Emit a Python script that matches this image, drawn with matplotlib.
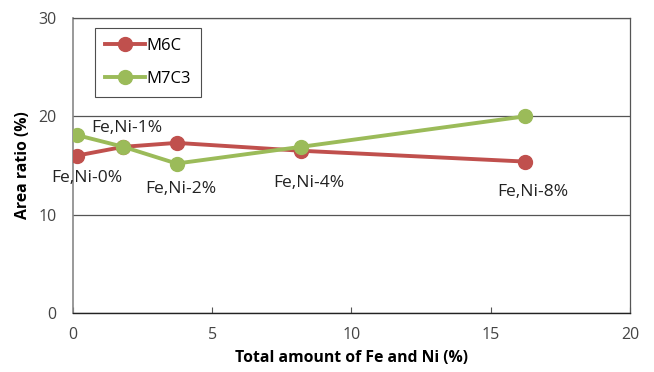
import matplotlib
matplotlib.use("Agg")
import matplotlib.pyplot as plt

plt.rcParams['font.family'] = ['Open Sans', 'DejaVu Sans']

# Carbide area ratio vs total Fe+Ni content
fe_ni_total = [0.13, 1.81, 3.72, 8.19, 16.23]
m6c = [16.0, 16.9, 17.3, 16.5, 15.4]
m7c3 = [18.1, 16.9, 15.2, 16.9, 20.0]
point_labels = ["Fe,Ni-0%", "Fe,Ni-1%", "Fe,Ni-2%", "Fe,Ni-4%", "Fe,Ni-8%"]
# label anchor positions in data coordinates
label_x = [0.49, 1.93, 3.88, 8.46, 16.52]
label_y = [13.7, 18.8, 12.6, 13.2, 12.3]

red = "#C0504D"
green = "#9BBB59"

fig = plt.figure(figsize=(6.54, 3.72), dpi=100)
ax = fig.add_axes([0.1116, 0.1586, 0.8517, 0.793])

ax.plot(fe_ni_total, m6c, color=red, lw=2.8, marker='o', ms=10, label="M6C", zorder=3)
ax.plot(fe_ni_total, m7c3, color=green, lw=2.8, marker='o', ms=10, label="M7C3", zorder=4)

for x, y, lab in zip(label_x, label_y, point_labels):
    ax.text(x, y, lab, ha='center', va='center', fontsize=12.5, color='#222222', zorder=5)

ax.set_xlim(0, 20)
ax.set_ylim(0, 30)
ax.set_xticks([0, 5, 10, 15, 20])
ax.set_yticks([0, 10, 20, 30])
ax.tick_params(axis='x', direction='in', length=4, width=0.8, color='#555555', pad=10,
               labelsize=11.5, labelcolor='#444444')
ax.tick_params(axis='y', length=0, pad=12, labelsize=11.5, labelcolor='#444444')
ax.grid(axis='y', color='#555555', lw=0.9)
ax.set_axisbelow(True)

for side in ['top', 'right']:
    ax.spines[side].set_color('#555555')
    ax.spines[side].set_linewidth(0.9)
ax.spines['left'].set_color('#888888')
ax.spines['left'].set_linewidth(1.2)
ax.spines['bottom'].set_color('#222222')
ax.spines['bottom'].set_linewidth(1.0)

ax.set_xlabel("Total amount of Fe and Ni (%)", fontsize=11.3, fontweight='bold', labelpad=5)
ax.set_ylabel("Area ratio (%)", fontsize=11.3, fontweight='bold', labelpad=5)

leg = ax.legend(loc='upper left', bbox_to_anchor=(0.0395, 0.966), borderaxespad=0,
                frameon=True, fancybox=False, edgecolor='#222222', fontsize=12,
                handlelength=2.4, borderpad=0.6, labelspacing=1.0, handletextpad=0.1)
leg.get_frame().set_linewidth(0.8)

fig.savefig("out.png", dpi=100)
